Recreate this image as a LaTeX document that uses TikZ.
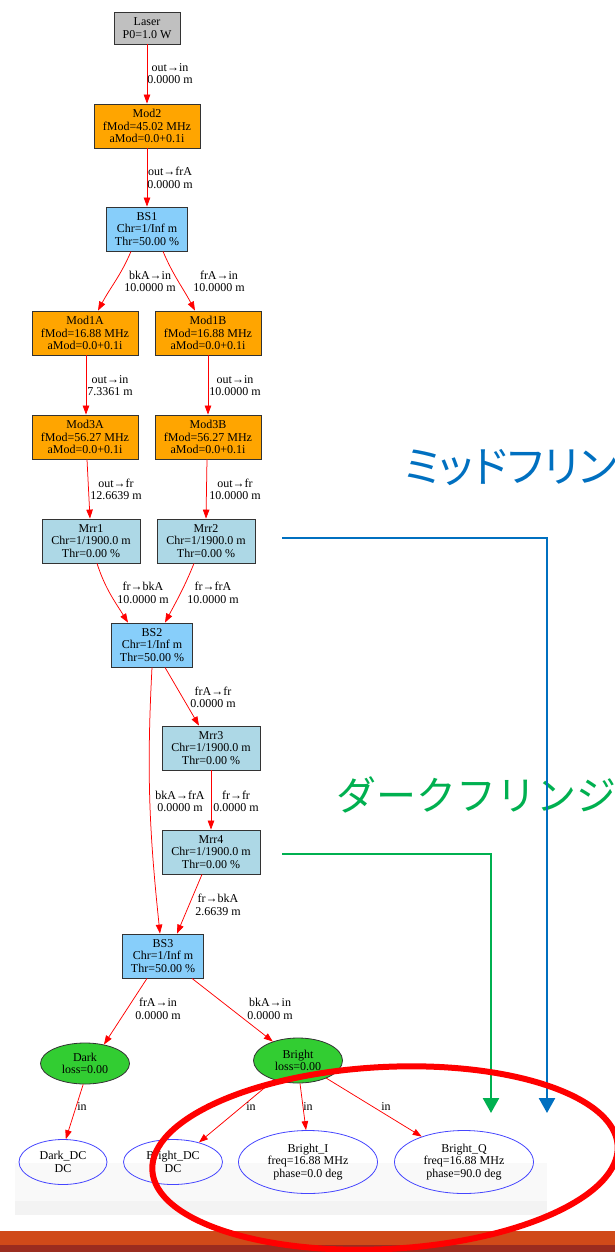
\documentclass[tikz,border=0pt]{standalone}
\usepackage{fontspec}
\setmainfont{Liberation Serif}
\newfontfamily\jpfont[RawFeature=+palt]{Noto Sans CJK JP}
\newfontfamily\jpfontmono{Noto Sans CJK JP}
\usetikzlibrary{arrows.meta,shapes.geometric}
\definecolor{laserc}{HTML}{C0C0C0}
\definecolor{modc}{HTML}{FFA500}
\definecolor{bsc}{HTML}{87CEFA}
\definecolor{mrrc}{HTML}{ADD8E6}
\definecolor{portc}{HTML}{32CD32}
\definecolor{detc}{HTML}{4646FF}
\definecolor{midc}{HTML}{0070C0}
\definecolor{darkc}{HTML}{00B050}
\definecolor{barA}{HTML}{D04A19}
\definecolor{barB}{HTML}{9A2C1F}
\definecolor{bgA}{HTML}{F9F9F9}
\definecolor{bgB}{HTML}{F3F3F3}
\begin{document}
\begin{tikzpicture}[x=1pt,y=1pt,
  every node/.style={font=\fontsize{12}{12.6}\selectfont, align=center, inner sep=0pt},
  optbox/.style={draw=black!80, line width=0.8pt, rectangle, minimum height=44pt},
  laserbox/.style={optbox, fill=laserc, minimum width=66pt, minimum height=32pt},
  modbox/.style={optbox, fill=modc, minimum width=106pt},
  bsbox/.style={optbox, fill=bsc, minimum width=81pt},
  mrrbox/.style={optbox, fill=mrrc, minimum width=98pt},
  portnode/.style={ellipse, draw=black!80, line width=0.8pt, fill=portc, minimum width=89pt},
  detnode/.style={ellipse, draw=detc, line width=0.8pt, minimum height=45pt},
  wire/.style={draw=red, line width=0.75pt, -{Triangle[length=9pt,width=6.5pt]}},
  callout/.style={line width=2.5pt, -{Triangle[length=15pt,width=16pt]}},
  jptext/.style={anchor=west},
]
\useasboundingbox (0,-1252) rectangle (615,0);
\clip (0,-1252) rectangle (615,0);
\fill[white] (0,-1252) rectangle (615,0);
% background band and bottom bar
\fill[bgA] (15,-1163) rectangle (547,-1201);
\fill[bgB] (15,-1201) rectangle (547,-1215);
\fill[barA] (0,-1231) rectangle (615,-1245);
\fill[barB] (0,-1245) rectangle (615,-1252);

% nodes
\node[laserbox] (Laser) at (147,-28) {Laser\\P0=1.0 W};
\node[modbox] (Mod2) at (147,-126) {Mod2\\fMod=45.02 MHz\\aMod=0.0+0.1i};
\node[bsbox] (BS1) at (147,-229) {BS1\\Chr=1/Inf m\\Thr=50.00 \%};
\node[modbox] (Mod1A) at (85,-333) {Mod1A\\fMod=16.88 MHz\\aMod=0.0+0.1i};
\node[modbox] (Mod1B) at (208,-333) {Mod1B\\fMod=16.88 MHz\\aMod=0.0+0.1i};
\node[modbox] (Mod3A) at (85,-437) {Mod3A\\fMod=56.27 MHz\\aMod=0.0+0.1i};
\node[modbox] (Mod3B) at (208,-437) {Mod3B\\fMod=56.27 MHz\\aMod=0.0+0.1i};
\node[mrrbox] (Mrr1) at (91,-541) {Mrr1\\Chr=1/1900.0 m\\Thr=0.00 \%};
\node[mrrbox] (Mrr2) at (206,-541) {Mrr2\\Chr=1/1900.0 m\\Thr=0.00 \%};
\node[bsbox] (BS2) at (152,-645) {BS2\\Chr=1/Inf m\\Thr=50.00 \%};
\node[mrrbox] (Mrr3) at (211,-748) {Mrr3\\Chr=1/1900.0 m\\Thr=0.00 \%};
\node[mrrbox] (Mrr4) at (211,-852) {Mrr4\\Chr=1/1900.0 m\\Thr=0.00 \%};
\node[bsbox] (BS3) at (163,-956) {BS3\\Chr=1/Inf m\\Thr=50.00 \%};
\node[portnode, minimum height=41pt] (Dark) at (85,-1063.5) {Dark\\loss=0.00};
\node[portnode, minimum height=45pt] (Bright) at (298,-1060.5) {Bright\\loss=0.00};
\node[detnode, minimum width=88pt] (DarkDC) at (63,-1162) {Dark\_DC\\DC};
\node[detnode, minimum width=99pt] (BrightDC) at (173,-1162) {Bright\_DC\\DC};
\node[detnode, minimum width=139pt, minimum height=63pt] (BrightI) at (308,-1162) {Bright\_I\\freq=16.88 MHz\\phase=0.0 deg};
\node[detnode, minimum width=139pt, minimum height=63pt] (BrightQ) at (464,-1162) {Bright\_Q\\freq=16.88 MHz\\phase=90.0 deg};

% connectors
\draw[wire] (Laser) -- (Mod2);
\draw[wire] (Mod2) -- (BS1);
\draw[wire] ([xshift=-16pt]BS1.south) to[out=-113,in=62] ([xshift=13pt]Mod1A.north);
\draw[wire] ([xshift=16pt]BS1.south) to[out=-67,in=118] ([xshift=-13pt]Mod1B.north);
\draw[wire] ([xshift=1pt]Mod1A.south) -- ([xshift=1pt]Mod3A.north);
\draw[wire] (Mod1B) -- (Mod3B);
\draw[wire] ([xshift=2pt]Mod3A.south) -- ([xshift=-1pt]Mrr1.north);
\draw[wire] ([xshift=-1pt]Mod3B.south) -- (Mrr2.north);
\draw[wire] ([xshift=6pt]Mrr1.south) to[out=-72,in=122] ([xshift=-24pt]BS2.north);
\draw[wire] ([xshift=-12pt]Mrr2.south) to[out=-112,in=62] ([xshift=13pt]BS2.north);
\draw[wire] ([xshift=13pt]BS2.south) -- ([xshift=-12pt]Mrr3.north);
\draw[wire] (BS2.south) to[out=-93,in=96] ([xshift=-3pt]BS3.north);
\draw[wire] (Mrr3) -- (Mrr4);
\draw[wire] ([xshift=-9pt]Mrr4.south) -- ([xshift=14pt]BS3.north);
\draw[wire] ([xshift=-16pt]BS3.south) -- (Dark.45);
\draw[wire] ([xshift=29pt]BS3.south) -- (Bright.143);
\draw[wire] (Dark.265) -- (DarkDC.83);
\draw[wire] (Bright.219) -- (BrightDC.37);
\draw[wire] ([xshift=2pt]Bright.south) -- ([xshift=-2pt]BrightI.north);
\draw[wire] (Bright.-32) -- (BrightQ.149);

% connector labels
\node (l1) at (170,-73.5) {out→in\\0.0000 m};
\node (l2) at (170,-178) {out→frA\\0.0000 m};
\node (l3) at (150,-281.5) {bkA→in\\10.0000 m};
\node (l4) at (219,-281.5) {frA→in\\10.0000 m};
\node (l5) at (110,-385.5) {out→in\\7.3361 m};
\node (l6) at (235,-385.5) {out→in\\10.0000 m};
\node (l7) at (116,-489.5) {out→fr\\12.6639 m};
\node (l8) at (235,-489.5) {out→fr\\10.0000 m};
\node (l9) at (143,-593) {fr→bkA\\10.0000 m};
\node (l10) at (213,-593) {fr→frA\\10.0000 m};
\node (l11) at (213,-697.5) {frA→fr\\0.0000 m};
\node (l12) at (180,-801.5) {bkA→frA\\0.0000 m};
\node (l13) at (236,-801.5) {fr→fr\\0.0000 m};
\node (l14) at (218,-905) {fr→bkA\\2.6639 m};
\node (l15) at (158,-1009) {frA→in\\0.0000 m};
\node (l16) at (270,-1009) {bkA→in\\0.0000 m};
\node (l17) at (82,-1107) {in};
\node (l18) at (251,-1107) {in};
\node (l19) at (308,-1107) {in};
\node (l20) at (386,-1107) {in};

% annotations
\node[jptext, text=darkc, font=\jpfontmono\fontsize{40}{40}\selectfont] (darktxt) at (336,-795) {ダークフリンジ};
\node[jptext, text=midc, font=\jpfont\fontsize{43}{43}\selectfont] (midtxt) at (404,-467) {ミッドフリンジ};
\coordinate (gstart) at (282,-854);
\coordinate (gend) at (491,-1113);
\coordinate (bstart) at (282,-538);
\coordinate (bend) at (547,-1113);
\draw[callout, darkc] (gstart) -| (gend);
\draw[callout, midc] (bstart) -| (bend);
\draw[red, line width=6pt, rotate around={3:(385,-1158)}] (385,-1158) ellipse [x radius=233, y radius=91];
\end{tikzpicture}
\end{document}
